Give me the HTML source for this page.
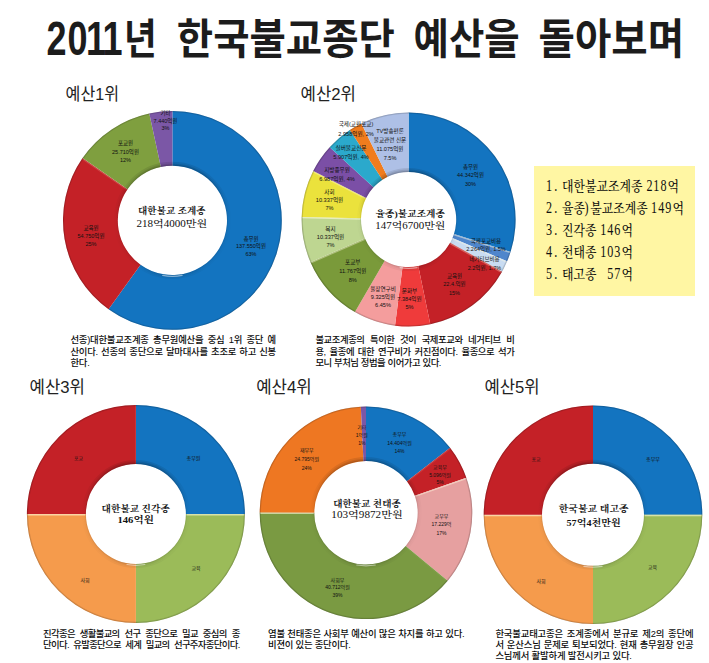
<!DOCTYPE html>
<html lang="ko"><head><meta charset="utf-8"><title>2011년 한국불교종단 예산을 돌아보며</title>
<style>
html,body{margin:0;padding:0;background:#fff}
#page{position:relative;width:709px;height:663px;overflow:hidden;background:#fff}
.cap{position:absolute;font-family:'Liberation Sans','Noto Sans CJK KR','NanumGothic',sans-serif;font-size:9.4px;font-weight:500;line-height:11.3px;color:#0c0c0c;white-space:nowrap}
.cap .j{text-align:justify;text-align-last:justify;white-space:normal}
.ybox{position:absolute;left:534px;top:165.6px;width:161.3px;height:130.4px;background:#fff6a3}
</style></head><body>
<div id="page">
<div class="ybox"></div>
<svg width="709" height="663" viewBox="0 0 709 663" style="position:absolute;left:0;top:0">
<defs>
<radialGradient id="g0" gradientUnits="userSpaceOnUse" cx="172.4" cy="220.4" r="109.4"><stop offset="0.499" stop-color="#000" stop-opacity="0.08"/><stop offset="0.513" stop-color="#000" stop-opacity="0"/><stop offset="0.984" stop-color="#000" stop-opacity="0"/><stop offset="1" stop-color="#000" stop-opacity="0.25"/></radialGradient>
<radialGradient id="g1" gradientUnits="userSpaceOnUse" cx="408.6" cy="219.5" r="107.0"><stop offset="0.445" stop-color="#000" stop-opacity="0.08"/><stop offset="0.459" stop-color="#000" stop-opacity="0"/><stop offset="0.983" stop-color="#000" stop-opacity="0"/><stop offset="1" stop-color="#000" stop-opacity="0.25"/></radialGradient>
<radialGradient id="g2" gradientUnits="userSpaceOnUse" cx="135.9" cy="514.0" r="109.0"><stop offset="0.459" stop-color="#000" stop-opacity="0.08"/><stop offset="0.472" stop-color="#000" stop-opacity="0"/><stop offset="0.983" stop-color="#000" stop-opacity="0"/><stop offset="1" stop-color="#000" stop-opacity="0.25"/></radialGradient>
<radialGradient id="g3" gradientUnits="userSpaceOnUse" cx="366.0" cy="512.8" r="106.3"><stop offset="0.486" stop-color="#000" stop-opacity="0.08"/><stop offset="0.500" stop-color="#000" stop-opacity="0"/><stop offset="0.983" stop-color="#000" stop-opacity="0"/><stop offset="1" stop-color="#000" stop-opacity="0.25"/></radialGradient>
<radialGradient id="g4" gradientUnits="userSpaceOnUse" cx="593.0" cy="514.8" r="109.3"><stop offset="0.467" stop-color="#000" stop-opacity="0.08"/><stop offset="0.480" stop-color="#000" stop-opacity="0"/><stop offset="0.984" stop-color="#000" stop-opacity="0"/><stop offset="1" stop-color="#000" stop-opacity="0.25"/></radialGradient>
<linearGradient id="ir0" gradientUnits="userSpaceOnUse" x1="0" y1="162.3" x2="0" y2="278.5"><stop offset="0" stop-color="#000" stop-opacity="0.10"/><stop offset="0.30" stop-color="#000" stop-opacity="0.035"/><stop offset="0.5" stop-color="#000" stop-opacity="0.01"/><stop offset="0.9" stop-color="#000" stop-opacity="0.02"/><stop offset="1" stop-color="#000" stop-opacity="0.05"/></linearGradient>
<linearGradient id="ir1" gradientUnits="userSpaceOnUse" x1="0" y1="168.4" x2="0" y2="270.6"><stop offset="0" stop-color="#000" stop-opacity="0.10"/><stop offset="0.30" stop-color="#000" stop-opacity="0.035"/><stop offset="0.5" stop-color="#000" stop-opacity="0.01"/><stop offset="0.9" stop-color="#000" stop-opacity="0.02"/><stop offset="1" stop-color="#000" stop-opacity="0.05"/></linearGradient>
<linearGradient id="ir2" gradientUnits="userSpaceOnUse" x1="0" y1="460.5" x2="0" y2="567.5"><stop offset="0" stop-color="#000" stop-opacity="0.10"/><stop offset="0.30" stop-color="#000" stop-opacity="0.035"/><stop offset="0.5" stop-color="#000" stop-opacity="0.01"/><stop offset="0.9" stop-color="#000" stop-opacity="0.02"/><stop offset="1" stop-color="#000" stop-opacity="0.05"/></linearGradient>
<linearGradient id="ir3" gradientUnits="userSpaceOnUse" x1="0" y1="457.6" x2="0" y2="568.0"><stop offset="0" stop-color="#000" stop-opacity="0.10"/><stop offset="0.30" stop-color="#000" stop-opacity="0.035"/><stop offset="0.5" stop-color="#000" stop-opacity="0.01"/><stop offset="0.9" stop-color="#000" stop-opacity="0.02"/><stop offset="1" stop-color="#000" stop-opacity="0.05"/></linearGradient>
<linearGradient id="ir4" gradientUnits="userSpaceOnUse" x1="0" y1="460.3" x2="0" y2="569.3"><stop offset="0" stop-color="#000" stop-opacity="0.10"/><stop offset="0.30" stop-color="#000" stop-opacity="0.035"/><stop offset="0.5" stop-color="#000" stop-opacity="0.01"/><stop offset="0.9" stop-color="#000" stop-opacity="0.02"/><stop offset="1" stop-color="#000" stop-opacity="0.05"/></linearGradient>
</defs>
<g>
<path d="M172.40 111.00A109.4 109.4 0 1 1 108.56 309.24L140.54 264.74A54.6 54.6 0 1 0 172.40 165.80Z" fill="#1374c0"/>
<path d="M108.56 309.24A109.4 109.4 0 0 1 82.57 157.96L127.57 189.24A54.6 54.6 0 0 0 140.54 264.74Z" fill="#c42127"/>
<path d="M82.57 157.96A109.4 109.4 0 0 1 149.28 113.47L160.86 167.03A54.6 54.6 0 0 0 127.57 189.24Z" fill="#7f9f3f"/>
<path d="M149.28 113.47A109.4 109.4 0 0 1 172.40 111.00L172.40 165.80A54.6 54.6 0 0 0 160.86 167.03Z" fill="#7b57a6"/>
<line x1="126.73" y1="189.57" x2="82.55" y2="158.87" stroke="#fffbe0" stroke-opacity="0.17" stroke-width="1.3"/>
<circle cx="172.4" cy="220.4" r="82.00" fill="none" stroke="url(#g0)" stroke-width="54.80"/>
<circle cx="172.4" cy="220.4" r="55.20" fill="none" stroke="url(#ir0)" stroke-width="1.2"/>
<circle cx="172.4" cy="220.4" r="55.80" fill="none" stroke="url(#ir0)" stroke-width="2.4"/>
<circle cx="172.4" cy="220.4" r="56.60" fill="none" stroke="url(#ir0)" stroke-width="4.0"/>
<path d="M182.11 275.45A55.90 55.90 0 0 1 162.69 275.45" fill="none" stroke="#fff" stroke-opacity="0.5" stroke-width="1.2" stroke-linecap="round"/>
</g>
<g>
<path d="M408.60 112.50A107.0 107.0 0 0 1 510.59 251.85L453.97 233.89A47.6 47.6 0 0 0 408.60 171.90Z" fill="#1374c0"/>
<path d="M510.59 251.85A107.0 107.0 0 0 1 507.09 261.31L452.42 238.10A47.6 47.6 0 0 0 453.97 233.89Z" fill="#4f86cc"/>
<path d="M507.09 261.31A107.0 107.0 0 0 1 502.00 271.70L450.15 242.72A47.6 47.6 0 0 0 452.42 238.10Z" fill="#c9dcf2"/>
<path d="M502.00 271.70A107.0 107.0 0 0 1 430.30 324.28L418.25 266.11A47.6 47.6 0 0 0 450.15 242.72Z" fill="#c42127"/>
<path d="M430.30 324.28A107.0 107.0 0 0 1 395.00 325.63L402.55 266.71A47.6 47.6 0 0 0 418.25 266.11Z" fill="#ef3b3b"/>
<path d="M395.00 325.63A107.0 107.0 0 0 1 354.94 312.07L384.73 260.68A47.6 47.6 0 0 0 402.55 266.71Z" fill="#f49d9d"/>
<path d="M354.94 312.07A107.0 107.0 0 0 1 310.47 262.17L364.95 238.48A47.6 47.6 0 0 0 384.73 260.68Z" fill="#7a9a3a"/>
<path d="M310.47 262.17A107.0 107.0 0 0 1 301.63 216.89L361.01 218.34A47.6 47.6 0 0 0 364.95 238.48Z" fill="#bed691"/>
<path d="M301.63 216.89A107.0 107.0 0 0 1 313.26 170.92L366.19 197.89A47.6 47.6 0 0 0 361.01 218.34Z" fill="#ebe23c"/>
<path d="M313.26 170.92A107.0 107.0 0 0 1 329.71 147.21L373.51 187.34A47.6 47.6 0 0 0 366.19 197.89Z" fill="#7b4fa6"/>
<path d="M329.71 147.21A107.0 107.0 0 0 1 349.85 130.07L382.47 179.72A47.6 47.6 0 0 0 373.51 187.34Z" fill="#2ba9cc"/>
<path d="M349.85 130.07A107.0 107.0 0 0 1 361.36 123.49L387.58 176.79A47.6 47.6 0 0 0 382.47 179.72Z" fill="#f07c1e"/>
<path d="M361.36 123.49A107.0 107.0 0 0 1 408.60 112.50L408.60 171.90A47.6 47.6 0 0 0 387.58 176.79Z" fill="#aec0e6"/>
<line x1="454.22" y1="234.76" x2="509.89" y2="252.42" stroke="#fffbe0" stroke-opacity="0.49" stroke-width="1.3"/>
<line x1="452.58" y1="238.98" x2="506.34" y2="261.80" stroke="#fffbe0" stroke-opacity="0.41" stroke-width="1.3"/>
<line x1="450.22" y1="243.62" x2="501.20" y2="272.11" stroke="#fffbe0" stroke-opacity="0.30" stroke-width="1.3"/>
<line x1="364.79" y1="239.37" x2="311.23" y2="262.65" stroke="#fffbe0" stroke-opacity="0.40" stroke-width="1.3"/>
<line x1="360.50" y1="219.07" x2="302.11" y2="217.65" stroke="#fffbe0" stroke-opacity="0.60" stroke-width="1.3"/>
<line x1="365.40" y1="198.33" x2="313.37" y2="171.82" stroke="#fffbe0" stroke-opacity="0.34" stroke-width="1.3"/>
<circle cx="408.6" cy="219.5" r="77.30" fill="none" stroke="url(#g1)" stroke-width="59.40"/>
<circle cx="408.6" cy="219.5" r="48.20" fill="none" stroke="url(#ir1)" stroke-width="1.2"/>
<circle cx="408.6" cy="219.5" r="48.80" fill="none" stroke="url(#ir1)" stroke-width="2.4"/>
<circle cx="408.6" cy="219.5" r="49.60" fill="none" stroke="url(#ir1)" stroke-width="4.0"/>
<path d="M417.09 267.66A48.90 48.90 0 0 1 400.11 267.66" fill="none" stroke="#fff" stroke-opacity="0.5" stroke-width="1.2" stroke-linecap="round"/>
</g>
<g>
<path d="M135.90 405.00A109.0 109.0 0 0 1 244.90 514.00L185.90 514.00A50.0 50.0 0 0 0 135.90 464.00Z" fill="#1374c0"/>
<path d="M244.90 514.00A109.0 109.0 0 0 1 135.90 623.00L135.90 564.00A50.0 50.0 0 0 0 185.90 514.00Z" fill="#9bbb59"/>
<path d="M135.90 623.00A109.0 109.0 0 0 1 26.90 514.00L85.90 514.00A50.0 50.0 0 0 0 135.90 564.00Z" fill="#f59b4c"/>
<path d="M26.90 514.00A109.0 109.0 0 0 1 135.90 405.00L135.90 464.00A50.0 50.0 0 0 0 85.90 514.00Z" fill="#c42127"/>
<line x1="186.40" y1="514.75" x2="244.40" y2="514.75" stroke="#fffbe0" stroke-opacity="0.60" stroke-width="1.3"/>
<line x1="85.40" y1="514.75" x2="27.40" y2="514.75" stroke="#fffbe0" stroke-opacity="0.60" stroke-width="1.3"/>
<circle cx="135.9" cy="514.0" r="79.50" fill="none" stroke="url(#g2)" stroke-width="59.00"/>
<circle cx="135.9" cy="514.0" r="50.60" fill="none" stroke="url(#ir2)" stroke-width="1.2"/>
<circle cx="135.9" cy="514.0" r="51.20" fill="none" stroke="url(#ir2)" stroke-width="2.4"/>
<circle cx="135.9" cy="514.0" r="52.00" fill="none" stroke="url(#ir2)" stroke-width="4.0"/>
<path d="M144.81 564.52A51.30 51.30 0 0 1 126.99 564.52" fill="none" stroke="#fff" stroke-opacity="0.5" stroke-width="1.2" stroke-linecap="round"/>
</g>
<g>
<path d="M366.00 406.50A106.3 106.3 0 0 1 450.11 447.79L406.91 481.18A51.7 51.7 0 0 0 366.00 461.10Z" fill="#1374c0"/>
<path d="M450.11 447.79A106.3 106.3 0 0 1 466.33 477.67L414.79 495.71A51.7 51.7 0 0 0 406.91 481.18Z" fill="#c42127"/>
<path d="M466.33 477.67A106.3 106.3 0 0 1 447.67 580.84L405.72 545.89A51.7 51.7 0 0 0 414.79 495.71Z" fill="#e6a0a0"/>
<path d="M447.67 580.84A106.3 106.3 0 0 1 259.70 512.61L314.30 512.71A51.7 51.7 0 0 0 405.72 545.89Z" fill="#7a9a42"/>
<path d="M259.70 512.61A106.3 106.3 0 0 1 360.81 406.63L363.47 461.16A51.7 51.7 0 0 0 314.30 512.71Z" fill="#ee7722"/>
<path d="M360.81 406.63A106.3 106.3 0 0 1 366.00 406.50L366.00 461.10A51.7 51.7 0 0 0 363.47 461.16Z" fill="#7b57a6"/>
<line x1="407.76" y1="481.47" x2="450.17" y2="448.69" stroke="#fffbe0" stroke-opacity="0.10" stroke-width="1.3"/>
<line x1="415.51" y1="496.25" x2="466.10" y2="478.54" stroke="#fffbe0" stroke-opacity="0.47" stroke-width="1.3"/>
<line x1="405.62" y1="546.79" x2="446.80" y2="581.10" stroke="#fffbe0" stroke-opacity="0.04" stroke-width="1.3"/>
<line x1="313.80" y1="513.46" x2="260.20" y2="513.37" stroke="#fffbe0" stroke-opacity="0.60" stroke-width="1.3"/>
<circle cx="366.0" cy="512.8" r="79.00" fill="none" stroke="url(#g3)" stroke-width="54.60"/>
<circle cx="366.0" cy="512.8" r="52.30" fill="none" stroke="url(#ir3)" stroke-width="1.2"/>
<circle cx="366.0" cy="512.8" r="52.90" fill="none" stroke="url(#ir3)" stroke-width="2.4"/>
<circle cx="366.0" cy="512.8" r="53.70" fill="none" stroke="url(#ir3)" stroke-width="4.0"/>
<path d="M375.20 564.99A53.00 53.00 0 0 1 356.80 564.99" fill="none" stroke="#fff" stroke-opacity="0.5" stroke-width="1.2" stroke-linecap="round"/>
</g>
<g>
<path d="M593.00 405.50A109.3 109.3 0 0 1 702.30 514.80L644.00 514.80A51.0 51.0 0 0 0 593.00 463.80Z" fill="#1374c0"/>
<path d="M702.30 514.80A109.3 109.3 0 0 1 593.00 624.10L593.00 565.80A51.0 51.0 0 0 0 644.00 514.80Z" fill="#9bbb59"/>
<path d="M593.00 624.10A109.3 109.3 0 0 1 483.70 514.80L542.00 514.80A51.0 51.0 0 0 0 593.00 565.80Z" fill="#f59b4c"/>
<path d="M483.70 514.80A109.3 109.3 0 0 1 593.00 405.50L593.00 463.80A51.0 51.0 0 0 0 542.00 514.80Z" fill="#c42127"/>
<line x1="644.50" y1="515.55" x2="701.80" y2="515.55" stroke="#fffbe0" stroke-opacity="0.60" stroke-width="1.3"/>
<line x1="541.50" y1="515.55" x2="484.20" y2="515.55" stroke="#fffbe0" stroke-opacity="0.60" stroke-width="1.3"/>
<circle cx="593.0" cy="514.8" r="80.15" fill="none" stroke="url(#g4)" stroke-width="58.30"/>
<circle cx="593.0" cy="514.8" r="51.60" fill="none" stroke="url(#ir4)" stroke-width="1.2"/>
<circle cx="593.0" cy="514.8" r="52.20" fill="none" stroke="url(#ir4)" stroke-width="2.4"/>
<circle cx="593.0" cy="514.8" r="53.00" fill="none" stroke="url(#ir4)" stroke-width="4.0"/>
<path d="M602.08 566.31A52.30 52.30 0 0 1 583.92 566.31" fill="none" stroke="#fff" stroke-opacity="0.5" stroke-width="1.2" stroke-linecap="round"/>
</g>
<g transform="scale(0.76,1)"><text x="61.05 88.95 113.16 134.74" y="54.9" font-family="'Liberation Sans','Noto Sans CJK KR','NanumGothic',sans-serif" font-size="47.4" font-weight="bold" fill="#1c1c1c">2011</text></g>
<text x="124.1" y="54.2" font-family="'Liberation Sans','Noto Sans CJK KR','NanumGothic',sans-serif" font-size="42" font-weight="bold" text-anchor="start" fill="#1c1c1c" textLength="32.7" lengthAdjust="spacingAndGlyphs">년</text>
<text x="176.8" y="54.2" font-family="'Liberation Sans','Noto Sans CJK KR','NanumGothic',sans-serif" font-size="42" font-weight="bold" text-anchor="start" fill="#1c1c1c" textLength="218.0" lengthAdjust="spacingAndGlyphs">한국불교종단</text>
<text x="413.5" y="54.2" font-family="'Liberation Sans','Noto Sans CJK KR','NanumGothic',sans-serif" font-size="42" font-weight="bold" text-anchor="start" fill="#1c1c1c" textLength="106.2" lengthAdjust="spacingAndGlyphs">예산을</text>
<text x="538.6" y="54.2" font-family="'Liberation Sans','Noto Sans CJK KR','NanumGothic',sans-serif" font-size="42" font-weight="bold" text-anchor="start" fill="#1c1c1c" textLength="145.4" lengthAdjust="spacingAndGlyphs">돌아보며</text>
<text x="65.6" y="99.9" font-family="'Liberation Sans','Noto Sans CJK KR','NanumGothic',sans-serif" font-size="17" font-weight="normal" text-anchor="start" fill="#222" textLength="53.4" lengthAdjust="spacingAndGlyphs">예산1위</text>
<text x="300.6" y="99.9" font-family="'Liberation Sans','Noto Sans CJK KR','NanumGothic',sans-serif" font-size="17" font-weight="normal" text-anchor="start" fill="#222" textLength="55.4" lengthAdjust="spacingAndGlyphs">예산2위</text>
<text x="29.6" y="393.2" font-family="'Liberation Sans','Noto Sans CJK KR','NanumGothic',sans-serif" font-size="17" font-weight="normal" text-anchor="start" fill="#222" textLength="55.4" lengthAdjust="spacingAndGlyphs">예산3위</text>
<text x="256.2" y="393.2" font-family="'Liberation Sans','Noto Sans CJK KR','NanumGothic',sans-serif" font-size="17" font-weight="normal" text-anchor="start" fill="#222" textLength="55.6" lengthAdjust="spacingAndGlyphs">예산4위</text>
<text x="484.4" y="393.2" font-family="'Liberation Sans','Noto Sans CJK KR','NanumGothic',sans-serif" font-size="17" font-weight="normal" text-anchor="start" fill="#222" textLength="55.2" lengthAdjust="spacingAndGlyphs">예산5위</text>
<text x="171.8" y="214.3" font-family="'Liberation Serif','Noto Serif CJK SC',serif" font-size="8.6" font-weight="bold" text-anchor="middle" fill="#111" textLength="67.5" lengthAdjust="spacingAndGlyphs">대한불교 조계종</text>
<text x="171.8" y="226.8" font-family="'Liberation Serif','Noto Serif CJK SC',serif" font-size="9.6" font-weight="500" text-anchor="middle" fill="#111" textLength="70.8" lengthAdjust="spacingAndGlyphs">218억4000만원</text>
<text x="410.3" y="217.2" font-family="'Liberation Serif','Noto Serif CJK SC',serif" font-size="8.6" font-weight="bold" text-anchor="middle" fill="#111" textLength="69.4" lengthAdjust="spacingAndGlyphs">율종)불교조계종</text>
<text x="410.3" y="229.3" font-family="'Liberation Serif','Noto Serif CJK SC',serif" font-size="9.6" font-weight="500" text-anchor="middle" fill="#111" textLength="70.0" lengthAdjust="spacingAndGlyphs">147억6700만원</text>
<text x="135.7" y="511.6" font-family="'Liberation Serif','Noto Serif CJK SC',serif" font-size="8.6" font-weight="bold" text-anchor="middle" fill="#111" textLength="68.2" lengthAdjust="spacingAndGlyphs">대한불교 진각종</text>
<text x="135.7" y="522.8" font-family="'Liberation Serif','Noto Serif CJK SC',serif" font-size="9.2" font-weight="bold" text-anchor="middle" fill="#111" textLength="36.4" lengthAdjust="spacingAndGlyphs">146억원</text>
<text x="367.0" y="507.1" font-family="'Liberation Serif','Noto Serif CJK SC',serif" font-size="8.6" font-weight="bold" text-anchor="middle" fill="#111" textLength="67.6" lengthAdjust="spacingAndGlyphs">대한불교 천태종</text>
<text x="367.0" y="518.4" font-family="'Liberation Serif','Noto Serif CJK SC',serif" font-size="9.6" font-weight="500" text-anchor="middle" fill="#111" textLength="71.4" lengthAdjust="spacingAndGlyphs">103억9872만원</text>
<text x="593.7" y="512.2" font-family="'Liberation Serif','Noto Serif CJK SC',serif" font-size="8.6" font-weight="bold" text-anchor="middle" fill="#111" textLength="70.0" lengthAdjust="spacingAndGlyphs">한국불교 태고종</text>
<text x="593.7" y="525.9" font-family="'Liberation Serif','Noto Serif CJK SC',serif" font-size="9.2" font-weight="bold" text-anchor="middle" fill="#111" textLength="54.4" lengthAdjust="spacingAndGlyphs">57억4천만원</text>
<text x="251.0" y="240.5" font-family="'Liberation Sans','Noto Sans CJK KR','NanumGothic',sans-serif" font-size="5.5" font-weight="normal" text-anchor="middle" fill="#111">총무원</text>
<text x="251.0" y="248.3" font-family="'Liberation Sans','Noto Sans CJK KR','NanumGothic',sans-serif" font-size="5.5" font-weight="normal" text-anchor="middle" fill="#111">137.550억원</text>
<text x="251.0" y="256.1" font-family="'Liberation Sans','Noto Sans CJK KR','NanumGothic',sans-serif" font-size="5.5" font-weight="normal" text-anchor="middle" fill="#111">63%</text>
<text x="91.0" y="230.0" font-family="'Liberation Sans','Noto Sans CJK KR','NanumGothic',sans-serif" font-size="5.5" font-weight="normal" text-anchor="middle" fill="#111">교육원</text>
<text x="91.0" y="237.8" font-family="'Liberation Sans','Noto Sans CJK KR','NanumGothic',sans-serif" font-size="5.5" font-weight="normal" text-anchor="middle" fill="#111">54.750억원</text>
<text x="91.0" y="245.6" font-family="'Liberation Sans','Noto Sans CJK KR','NanumGothic',sans-serif" font-size="5.5" font-weight="normal" text-anchor="middle" fill="#111">25%</text>
<text x="125.5" y="145.3" font-family="'Liberation Sans','Noto Sans CJK KR','NanumGothic',sans-serif" font-size="5.5" font-weight="normal" text-anchor="middle" fill="#111">포교원</text>
<text x="125.5" y="153.7" font-family="'Liberation Sans','Noto Sans CJK KR','NanumGothic',sans-serif" font-size="5.5" font-weight="normal" text-anchor="middle" fill="#111">25.710억원</text>
<text x="125.5" y="162.1" font-family="'Liberation Sans','Noto Sans CJK KR','NanumGothic',sans-serif" font-size="5.5" font-weight="normal" text-anchor="middle" fill="#111">12%</text>
<text x="165.5" y="115.0" font-family="'Liberation Sans','Noto Sans CJK KR','NanumGothic',sans-serif" font-size="5.5" font-weight="normal" text-anchor="middle" fill="#111">기타</text>
<text x="165.5" y="122.6" font-family="'Liberation Sans','Noto Sans CJK KR','NanumGothic',sans-serif" font-size="5.5" font-weight="normal" text-anchor="middle" fill="#111">7.440억원</text>
<text x="165.5" y="130.2" font-family="'Liberation Sans','Noto Sans CJK KR','NanumGothic',sans-serif" font-size="5.5" font-weight="normal" text-anchor="middle" fill="#111">3%</text>
<text x="470.5" y="169.2" font-family="'Liberation Sans','Noto Sans CJK KR','NanumGothic',sans-serif" font-size="5.5" font-weight="normal" text-anchor="middle" fill="#111">총무원</text>
<text x="470.5" y="177.4" font-family="'Liberation Sans','Noto Sans CJK KR','NanumGothic',sans-serif" font-size="5.5" font-weight="normal" text-anchor="middle" fill="#111">44.342억원</text>
<text x="470.5" y="185.6" font-family="'Liberation Sans','Noto Sans CJK KR','NanumGothic',sans-serif" font-size="5.5" font-weight="normal" text-anchor="middle" fill="#111">30%</text>
<text x="486.0" y="243.0" font-family="'Liberation Sans','Noto Sans CJK KR','NanumGothic',sans-serif" font-size="5.5" font-weight="normal" text-anchor="middle" fill="#111">국제포교비용</text>
<text x="486.0" y="251.2" font-family="'Liberation Sans','Noto Sans CJK KR','NanumGothic',sans-serif" font-size="5.5" font-weight="normal" text-anchor="middle" fill="#111">2.264억원, 1.5%</text>
<text x="484.4" y="261.3" font-family="'Liberation Sans','Noto Sans CJK KR','NanumGothic',sans-serif" font-size="5.5" font-weight="normal" text-anchor="middle" fill="#111">네거티브비용</text>
<text x="484.4" y="269.8" font-family="'Liberation Sans','Noto Sans CJK KR','NanumGothic',sans-serif" font-size="5.5" font-weight="normal" text-anchor="middle" fill="#111">2.2억원, 1.7%</text>
<text x="454.5" y="277.6" font-family="'Liberation Sans','Noto Sans CJK KR','NanumGothic',sans-serif" font-size="5.5" font-weight="normal" text-anchor="middle" fill="#111">교육원</text>
<text x="454.5" y="286.2" font-family="'Liberation Sans','Noto Sans CJK KR','NanumGothic',sans-serif" font-size="5.5" font-weight="normal" text-anchor="middle" fill="#111">22.4.억원</text>
<text x="454.5" y="294.8" font-family="'Liberation Sans','Noto Sans CJK KR','NanumGothic',sans-serif" font-size="5.5" font-weight="normal" text-anchor="middle" fill="#111">15%</text>
<text x="409.5" y="292.7" font-family="'Liberation Sans','Noto Sans CJK KR','NanumGothic',sans-serif" font-size="5.6" font-weight="normal" text-anchor="middle" fill="#111">문화부</text>
<text x="409.5" y="300.7" font-family="'Liberation Sans','Noto Sans CJK KR','NanumGothic',sans-serif" font-size="5.6" font-weight="normal" text-anchor="middle" fill="#111">7.384억원</text>
<text x="409.5" y="308.7" font-family="'Liberation Sans','Noto Sans CJK KR','NanumGothic',sans-serif" font-size="5.6" font-weight="normal" text-anchor="middle" fill="#111">5%</text>
<text x="383.0" y="290.6" font-family="'Liberation Sans','Noto Sans CJK KR','NanumGothic',sans-serif" font-size="5.6" font-weight="normal" text-anchor="middle" fill="#111">율장연구비</text>
<text x="383.0" y="298.6" font-family="'Liberation Sans','Noto Sans CJK KR','NanumGothic',sans-serif" font-size="5.6" font-weight="normal" text-anchor="middle" fill="#111">9.325억원</text>
<text x="383.0" y="306.6" font-family="'Liberation Sans','Noto Sans CJK KR','NanumGothic',sans-serif" font-size="5.6" font-weight="normal" text-anchor="middle" fill="#111">6.45%</text>
<text x="352.8" y="264.3" font-family="'Liberation Sans','Noto Sans CJK KR','NanumGothic',sans-serif" font-size="5.6" font-weight="normal" text-anchor="middle" fill="#111">포교부</text>
<text x="352.8" y="273.1" font-family="'Liberation Sans','Noto Sans CJK KR','NanumGothic',sans-serif" font-size="5.6" font-weight="normal" text-anchor="middle" fill="#111">11.767억원</text>
<text x="352.8" y="281.9" font-family="'Liberation Sans','Noto Sans CJK KR','NanumGothic',sans-serif" font-size="5.6" font-weight="normal" text-anchor="middle" fill="#111">8%</text>
<text x="330.5" y="230.5" font-family="'Liberation Sans','Noto Sans CJK KR','NanumGothic',sans-serif" font-size="5.6" font-weight="normal" text-anchor="middle" fill="#111">복지</text>
<text x="330.5" y="238.5" font-family="'Liberation Sans','Noto Sans CJK KR','NanumGothic',sans-serif" font-size="5.6" font-weight="normal" text-anchor="middle" fill="#111">10.337억원</text>
<text x="330.5" y="246.5" font-family="'Liberation Sans','Noto Sans CJK KR','NanumGothic',sans-serif" font-size="5.6" font-weight="normal" text-anchor="middle" fill="#111">7%</text>
<text x="329.5" y="193.5" font-family="'Liberation Sans','Noto Sans CJK KR','NanumGothic',sans-serif" font-size="5.6" font-weight="normal" text-anchor="middle" fill="#111">사회</text>
<text x="329.5" y="201.9" font-family="'Liberation Sans','Noto Sans CJK KR','NanumGothic',sans-serif" font-size="5.6" font-weight="normal" text-anchor="middle" fill="#111">10.337억원</text>
<text x="329.5" y="210.3" font-family="'Liberation Sans','Noto Sans CJK KR','NanumGothic',sans-serif" font-size="5.6" font-weight="normal" text-anchor="middle" fill="#111">7%</text>
<text x="337.0" y="172.0" font-family="'Liberation Sans','Noto Sans CJK KR','NanumGothic',sans-serif" font-size="5.6" font-weight="normal" text-anchor="middle" fill="#111">지방종무원</text>
<text x="337.0" y="181.2" font-family="'Liberation Sans','Noto Sans CJK KR','NanumGothic',sans-serif" font-size="5.6" font-weight="normal" text-anchor="middle" fill="#111">6.987억원, 4%</text>
<text x="351.0" y="150.0" font-family="'Liberation Sans','Noto Sans CJK KR','NanumGothic',sans-serif" font-size="5.6" font-weight="normal" text-anchor="middle" fill="#111">실버불교신문</text>
<text x="351.0" y="159.4" font-family="'Liberation Sans','Noto Sans CJK KR','NanumGothic',sans-serif" font-size="5.6" font-weight="normal" text-anchor="middle" fill="#111">5.907억원, 4%</text>
<text x="356.0" y="126.4" font-family="'Liberation Sans','Noto Sans CJK KR','NanumGothic',sans-serif" font-size="5.6" font-weight="normal" text-anchor="middle" fill="#111">국제(교환포교)</text>
<text x="356.0" y="135.6" font-family="'Liberation Sans','Noto Sans CJK KR','NanumGothic',sans-serif" font-size="5.6" font-weight="normal" text-anchor="middle" fill="#111">2.958억원, 2%</text>
<text x="390.0" y="133.4" font-family="'Liberation Sans','Noto Sans CJK KR','NanumGothic',sans-serif" font-size="5.6" font-weight="normal" text-anchor="middle" fill="#111">TV방송편론</text>
<text x="390.0" y="142.4" font-family="'Liberation Sans','Noto Sans CJK KR','NanumGothic',sans-serif" font-size="5.6" font-weight="normal" text-anchor="middle" fill="#111">불교관련 신문</text>
<text x="390.0" y="151.4" font-family="'Liberation Sans','Noto Sans CJK KR','NanumGothic',sans-serif" font-size="5.6" font-weight="normal" text-anchor="middle" fill="#111">11.075억원</text>
<text x="390.0" y="160.4" font-family="'Liberation Sans','Noto Sans CJK KR','NanumGothic',sans-serif" font-size="5.6" font-weight="normal" text-anchor="middle" fill="#111">7.5%</text>
<text x="78.5" y="459.5" font-family="'Liberation Sans','Noto Sans CJK KR','NanumGothic',sans-serif" font-size="5.0" font-weight="normal" text-anchor="middle" fill="#111">포교</text>
<text x="193.5" y="459.5" font-family="'Liberation Sans','Noto Sans CJK KR','NanumGothic',sans-serif" font-size="5.0" font-weight="normal" text-anchor="middle" fill="#111">총무원</text>
<text x="196.0" y="569.5" font-family="'Liberation Sans','Noto Sans CJK KR','NanumGothic',sans-serif" font-size="5.0" font-weight="normal" text-anchor="middle" fill="#111">교육</text>
<text x="85.0" y="581.5" font-family="'Liberation Sans','Noto Sans CJK KR','NanumGothic',sans-serif" font-size="5.0" font-weight="normal" text-anchor="middle" fill="#111">사회</text>
<text x="399.5" y="436.3" font-family="'Liberation Sans','Noto Sans CJK KR','NanumGothic',sans-serif" font-size="5.0" font-weight="normal" text-anchor="middle" fill="#111">총무부</text>
<text x="399.5" y="444.5" font-family="'Liberation Sans','Noto Sans CJK KR','NanumGothic',sans-serif" font-size="5.0" font-weight="normal" text-anchor="middle" fill="#111">14.404억원</text>
<text x="399.5" y="452.7" font-family="'Liberation Sans','Noto Sans CJK KR','NanumGothic',sans-serif" font-size="5.0" font-weight="normal" text-anchor="middle" fill="#111">14%</text>
<text x="440.0" y="468.6" font-family="'Liberation Sans','Noto Sans CJK KR','NanumGothic',sans-serif" font-size="5.0" font-weight="normal" text-anchor="middle" fill="#111">교육부</text>
<text x="440.0" y="476.5" font-family="'Liberation Sans','Noto Sans CJK KR','NanumGothic',sans-serif" font-size="5.0" font-weight="normal" text-anchor="middle" fill="#111">5.096억원</text>
<text x="440.0" y="484.4" font-family="'Liberation Sans','Noto Sans CJK KR','NanumGothic',sans-serif" font-size="5.0" font-weight="normal" text-anchor="middle" fill="#111">5%</text>
<text x="441.5" y="517.6" font-family="'Liberation Sans','Noto Sans CJK KR','NanumGothic',sans-serif" font-size="5.0" font-weight="normal" text-anchor="middle" fill="#111">교무부</text>
<text x="441.5" y="526.2" font-family="'Liberation Sans','Noto Sans CJK KR','NanumGothic',sans-serif" font-size="5.0" font-weight="normal" text-anchor="middle" fill="#111">17.229억</text>
<text x="441.5" y="534.8" font-family="'Liberation Sans','Noto Sans CJK KR','NanumGothic',sans-serif" font-size="5.0" font-weight="normal" text-anchor="middle" fill="#111">17%</text>
<text x="337.5" y="581.5" font-family="'Liberation Sans','Noto Sans CJK KR','NanumGothic',sans-serif" font-size="5.0" font-weight="normal" text-anchor="middle" fill="#111">사회부</text>
<text x="337.5" y="589.2" font-family="'Liberation Sans','Noto Sans CJK KR','NanumGothic',sans-serif" font-size="5.0" font-weight="normal" text-anchor="middle" fill="#111">40.712억원</text>
<text x="337.5" y="596.9" font-family="'Liberation Sans','Noto Sans CJK KR','NanumGothic',sans-serif" font-size="5.0" font-weight="normal" text-anchor="middle" fill="#111">39%</text>
<text x="306.8" y="451.5" font-family="'Liberation Sans','Noto Sans CJK KR','NanumGothic',sans-serif" font-size="5.0" font-weight="normal" text-anchor="middle" fill="#111">재무부</text>
<text x="306.8" y="460.5" font-family="'Liberation Sans','Noto Sans CJK KR','NanumGothic',sans-serif" font-size="5.0" font-weight="normal" text-anchor="middle" fill="#111">24.795억원</text>
<text x="306.8" y="469.5" font-family="'Liberation Sans','Noto Sans CJK KR','NanumGothic',sans-serif" font-size="5.0" font-weight="normal" text-anchor="middle" fill="#111">24%</text>
<text x="361.8" y="428.6" font-family="'Liberation Sans','Noto Sans CJK KR','NanumGothic',sans-serif" font-size="5.0" font-weight="normal" text-anchor="middle" fill="#111">기타</text>
<text x="361.8" y="436.9" font-family="'Liberation Sans','Noto Sans CJK KR','NanumGothic',sans-serif" font-size="5.0" font-weight="normal" text-anchor="middle" fill="#111">1억원</text>
<text x="361.8" y="445.2" font-family="'Liberation Sans','Noto Sans CJK KR','NanumGothic',sans-serif" font-size="5.0" font-weight="normal" text-anchor="middle" fill="#111">1%</text>
<text x="536.0" y="461.0" font-family="'Liberation Sans','Noto Sans CJK KR','NanumGothic',sans-serif" font-size="5.0" font-weight="normal" text-anchor="middle" fill="#111">포교</text>
<text x="653.0" y="461.0" font-family="'Liberation Sans','Noto Sans CJK KR','NanumGothic',sans-serif" font-size="5.0" font-weight="normal" text-anchor="middle" fill="#111">총무부</text>
<text x="652.5" y="568.5" font-family="'Liberation Sans','Noto Sans CJK KR','NanumGothic',sans-serif" font-size="5.0" font-weight="normal" text-anchor="middle" fill="#111">교육</text>
<text x="541.0" y="583.0" font-family="'Liberation Sans','Noto Sans CJK KR','NanumGothic',sans-serif" font-size="5.0" font-weight="normal" text-anchor="middle" fill="#111">사회</text>
<g transform="scale(0.74,1)"><text x="741.89 751.22" y="191.0" font-family="'Liberation Serif','Noto Serif CJK SC',serif" font-size="16.4" text-anchor="middle" fill="#111">1.</text></g>
<text x="562.0" y="191.0" font-family="'Liberation Serif','Noto Serif CJK SC',serif" font-size="13.2" font-weight="500" text-anchor="start" fill="#0c0c0c" textLength="80.5" lengthAdjust="spacingAndGlyphs">대한불교조계종</text>
<g transform="scale(0.74,1)"><text x="877.70 887.03 896.62" y="191.0" font-family="'Liberation Serif','Noto Serif CJK SC',serif" font-size="16.4" text-anchor="middle" fill="#111">218</text></g>
<text x="667.4" y="191.0" font-family="'Liberation Serif','Noto Serif CJK SC',serif" font-size="13.2" font-weight="500" text-anchor="start" fill="#0c0c0c" textLength="11.5" lengthAdjust="spacingAndGlyphs">억</text>
<g transform="scale(0.74,1)"><text x="741.89 751.22" y="213.0" font-family="'Liberation Serif','Noto Serif CJK SC',serif" font-size="16.4" text-anchor="middle" fill="#111">2.</text></g>
<text x="562.0" y="213.0" font-family="'Liberation Serif','Noto Serif CJK SC',serif" font-size="13.2" font-weight="500" text-anchor="start" fill="#0c0c0c" textLength="23.0" lengthAdjust="spacingAndGlyphs">율종</text>
<g transform="scale(0.74,1)"><text x="792.70" y="213.0" font-family="'Liberation Serif','Noto Serif CJK SC',serif" font-size="16.4" text-anchor="middle" fill="#111">)</text></g>
<text x="590.2" y="213.0" font-family="'Liberation Serif','Noto Serif CJK SC',serif" font-size="13.2" font-weight="500" text-anchor="start" fill="#0c0c0c" textLength="57.5" lengthAdjust="spacingAndGlyphs">불교조계종</text>
<g transform="scale(0.74,1)"><text x="883.78 893.51 903.11" y="213.0" font-family="'Liberation Serif','Noto Serif CJK SC',serif" font-size="16.4" text-anchor="middle" fill="#111">149</text></g>
<text x="672.4" y="213.0" font-family="'Liberation Serif','Noto Serif CJK SC',serif" font-size="13.2" font-weight="500" text-anchor="start" fill="#0c0c0c" textLength="11.5" lengthAdjust="spacingAndGlyphs">억</text>
<g transform="scale(0.74,1)"><text x="741.89 751.22" y="235.0" font-family="'Liberation Serif','Noto Serif CJK SC',serif" font-size="16.4" text-anchor="middle" fill="#111">3.</text></g>
<text x="562.0" y="235.0" font-family="'Liberation Serif','Noto Serif CJK SC',serif" font-size="13.2" font-weight="500" text-anchor="start" fill="#0c0c0c" textLength="34.5" lengthAdjust="spacingAndGlyphs">진각종</text>
<g transform="scale(0.74,1)"><text x="815.27 824.73 834.19" y="235.0" font-family="'Liberation Serif','Noto Serif CJK SC',serif" font-size="16.4" text-anchor="middle" fill="#111">146</text></g>
<text x="621.6" y="235.0" font-family="'Liberation Serif','Noto Serif CJK SC',serif" font-size="13.2" font-weight="500" text-anchor="start" fill="#0c0c0c" textLength="11.5" lengthAdjust="spacingAndGlyphs">억</text>
<g transform="scale(0.74,1)"><text x="741.89 751.22" y="257.0" font-family="'Liberation Serif','Noto Serif CJK SC',serif" font-size="16.4" text-anchor="middle" fill="#111">4.</text></g>
<text x="562.0" y="257.0" font-family="'Liberation Serif','Noto Serif CJK SC',serif" font-size="13.2" font-weight="500" text-anchor="start" fill="#0c0c0c" textLength="34.5" lengthAdjust="spacingAndGlyphs">천태종</text>
<g transform="scale(0.74,1)"><text x="815.27 824.73 834.19" y="257.0" font-family="'Liberation Serif','Noto Serif CJK SC',serif" font-size="16.4" text-anchor="middle" fill="#111">103</text></g>
<text x="621.6" y="257.0" font-family="'Liberation Serif','Noto Serif CJK SC',serif" font-size="13.2" font-weight="500" text-anchor="start" fill="#0c0c0c" textLength="11.5" lengthAdjust="spacingAndGlyphs">억</text>
<g transform="scale(0.74,1)"><text x="741.89 751.22" y="279.0" font-family="'Liberation Serif','Noto Serif CJK SC',serif" font-size="16.4" text-anchor="middle" fill="#111">5.</text></g>
<text x="562.0" y="279.0" font-family="'Liberation Serif','Noto Serif CJK SC',serif" font-size="13.2" font-weight="500" text-anchor="start" fill="#0c0c0c" textLength="34.5" lengthAdjust="spacingAndGlyphs">태고종</text>
<g transform="scale(0.74,1)"><text x="824.73 834.19" y="279.0" font-family="'Liberation Serif','Noto Serif CJK SC',serif" font-size="16.4" text-anchor="middle" fill="#111">57</text></g>
<text x="621.6" y="279.0" font-family="'Liberation Serif','Noto Serif CJK SC',serif" font-size="13.2" font-weight="500" text-anchor="start" fill="#0c0c0c" textLength="11.5" lengthAdjust="spacingAndGlyphs">억</text>
</svg>
<div class="cap" style="left:70.4px;top:334.4px;width:205.6px;letter-spacing:-0.25px"><div class="j">선종)대한불교조계종 총무원예산을 중심 1위 종단 예</div><div class="j">산이다. 선종의 종단으로 달마대사를 초조로 하고 신봉</div><div class="">한다.</div></div>
<div class="cap" style="left:315.4px;top:334.4px;width:199px;letter-spacing:-0.43px"><div class="j">불교조계종의 특이한 것이 국제포교와 네거티브 비</div><div class="j">용, 율종에 대한 연구비가 커진점이다. 율종으로 석가</div><div class="">모니 부처님 정법을 이어가고 있다.</div></div>
<div class="cap" style="left:43.0px;top:627.5px;width:196.6px;letter-spacing:-0.66px"><div class="j">진각종은 생활불교의 선구 종단으로 밀교 중심의 종</div><div class="j">단이다. 유발종단으로 세계 밀교의 선구주자종단이다.</div></div>
<div class="cap" style="left:268.0px;top:627.5px;width:196.4px;letter-spacing:-0.24px"><div class="j">염불 천태종은 사회부 예산이 많은 차지를 하고 있다.</div><div class="">비젼이 있는 종단이다.</div></div>
<div class="cap" style="left:495.4px;top:627.5px;width:198px;letter-spacing:-0.18px"><div class="j">한국불교태고종은 조계종에서 분규로 제2의 종단에</div><div class="j">서 운산스님 문제로 퇴보되었다. 현재 총무원장 인공</div><div class="">스님께서 활발하게 발전시키고 있다.</div></div>
</div>
</body></html>
